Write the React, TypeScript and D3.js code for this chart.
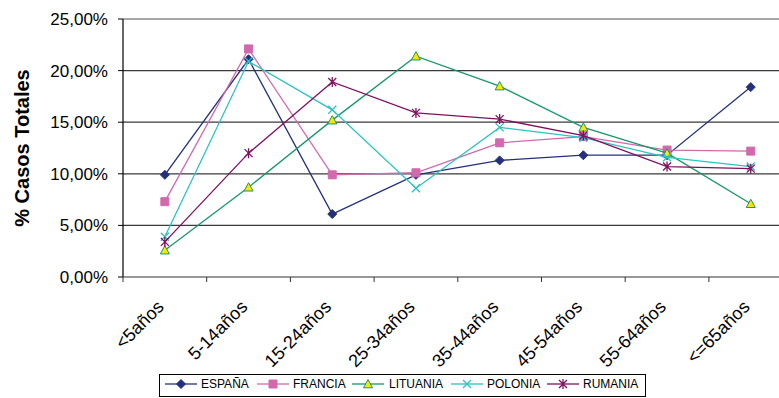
import React from "react";
import * as d3 from "d3";

const categories = ["<5años", "5-14años", "15-24años", "25-34años", "35-44años", "45-54años", "55-64años", "<=65años"];
const espana = [9.9, 21.1, 6.1, 9.9, 11.3, 11.8, 11.8, 18.4];
const francia = [7.3, 22.1, 9.9, 10.1, 13.0, 13.6, 12.3, 12.2];
const lituania = [2.6, 8.7, 15.2, 21.4, 18.5, 14.5, 12.0, 7.1];
const polonia = [3.9, 20.9, 16.2, 8.6, 14.5, 13.5, 11.6, 10.7];
const rumania = [3.4, 12.0, 18.9, 15.9, 15.3, 13.7, 10.7, 10.5];
const yTicks = [0, 5, 10, 15, 20, 25];

type Marker = "diamond" | "square" | "triangle" | "x" | "star";
const series: { name: string; values: number[]; color: string; fill: string; marker: Marker }[] = [
  { name: "ESPAÑA", values: espana, color: "#24307c", fill: "#24307c", marker: "diamond" },
  { name: "FRANCIA", values: francia, color: "#d269ad", fill: "#d269ad", marker: "square" },
  { name: "LITUANIA", values: lituania, color: "#17976b", fill: "#ffe600", marker: "triangle" },
  { name: "POLONIA", values: polonia, color: "#2cc3c0", fill: "none", marker: "x" },
  { name: "RUMANIA", values: rumania, color: "#80105f", fill: "none", marker: "star" },
];

const W = 779;
const H = 398;
const left = 123;
const band = 83.7;
const font = "Arial, 'Liberation Sans', sans-serif";

const x = d3.scaleBand<string>().domain(categories).range([left, left + band * categories.length]);
const y = d3.scaleLinear().domain([0, 25]).range([277, 19]);
const fmt = (v: number) => d3.format(".2f")(v).replace(".", ",") + "%";

function markerPath(m: Marker): string {
  switch (m) {
    case "diamond":
      return "M0,-4.5L4.5,0L0,4.5L-4.5,0Z";
    case "square":
      return "M-4,-4H4V4H-4Z";
    case "triangle":
      return "M0,-4.5L4.5,3.8H-4.5Z";
    case "x":
      return "M-4,-4L4,4M-4,4L4,-4";
    case "star":
      return "M-4,-4L4,4M-4,4L4,-4M0,-5V5";
  }
}

function Mark({ s, cx, cy }: { s: (typeof series)[number]; cx: number; cy: number }) {
  const stroked = s.marker === "x" || s.marker === "star";
  return (
    <path
      d={markerPath(s.marker)}
      transform={`translate(${cx},${cy})`}
      fill={stroked ? "none" : s.fill}
      stroke={s.color}
      strokeWidth={stroked ? 1.3 : 1}
    />
  );
}

export default function App() {
  const cx = (c: string) => (x(c) as number) + x.bandwidth() / 2;
  const line = d3
    .line<number>()
    .x((_, i) => cx(categories[i]))
    .y((v) => y(v));

  const legendItems = [
    { x0: 165, tx: 201 },
    { x0: 257, tx: 293 },
    { x0: 352, tx: 389 },
    { x0: 451, tx: 487 },
    { x0: 547, tx: 583 },
  ];
  const ly = 384;

  return (
    <svg width={W} height={H} style={{ position: "absolute", left: 0, top: 0, background: "#fff" }} fontFamily={font}>
      {/* gridlines */}
      {yTicks.filter((t) => t > 0).map((t) => (
        <line key={t} x1={left} x2={W} y1={y(t)} y2={y(t)} stroke={t === 25 ? "#8a8a8a" : "#3a3a3a"} strokeWidth={1.3} />
      ))}
      {/* y axis */}
      <line x1={left} x2={left} y1={y(25)} y2={y(0)} stroke="#000" strokeWidth={1.2} />
      {yTicks.map((t) => (
        <g key={t}>
          <line x1={left - 5} x2={left} y1={y(t)} y2={y(t)} stroke="#000" />
          <text x={108} y={y(t)} dy="0.35em" textAnchor="end" fontSize={17} fill="#000">
            {fmt(t)}
          </text>
        </g>
      ))}
      {/* x axis */}
      <line x1={left} x2={W} y1={y(0)} y2={y(0)} stroke="#333" strokeWidth={1.2} />
      {categories.map((c, i) => (
        <line key={c} x1={left + band * i} x2={left + band * i} y1={y(0)} y2={y(0) + 5} stroke="#333" />
      ))}
      {categories.map((c) => (
        <text key={c} transform={`translate(${cx(c)},${y(0) + 31}) rotate(-45)`} textAnchor="end" fontSize={18} fill="#000">
          {c}
        </text>
      ))}
      <text transform={`translate(29,${(y(0) + y(25)) / 2}) rotate(-90)`} textAnchor="middle" fontSize={20} fontWeight="bold" fill="#000">
        % Casos Totales
      </text>
      {/* series */}
      {series.map((s) => (
        <g key={s.name}>
          <path d={line(s.values) ?? ""} fill="none" stroke={s.color} strokeWidth={1.3} />
          {s.values.map((v, i) => (
            <Mark key={i} s={s} cx={cx(categories[i])} cy={y(v)} />
          ))}
        </g>
      ))}
      {/* legend */}
      <rect x={159.5} y={374.5} width={486} height={22} fill="#fff" stroke="#000" strokeWidth={1} />
      {series.map((s, i) => (
        <g key={s.name}>
          <line x1={legendItems[i].x0} x2={legendItems[i].x0 + 32} y1={ly} y2={ly} stroke={s.color} strokeWidth={1.3} />
          <Mark s={s} cx={legendItems[i].x0 + 16} cy={ly} />
          <text x={legendItems[i].tx} y={ly} dy="0.35em" fontSize={12} fill="#000">
            {s.name}
          </text>
        </g>
      ))}
    </svg>
  );
}
